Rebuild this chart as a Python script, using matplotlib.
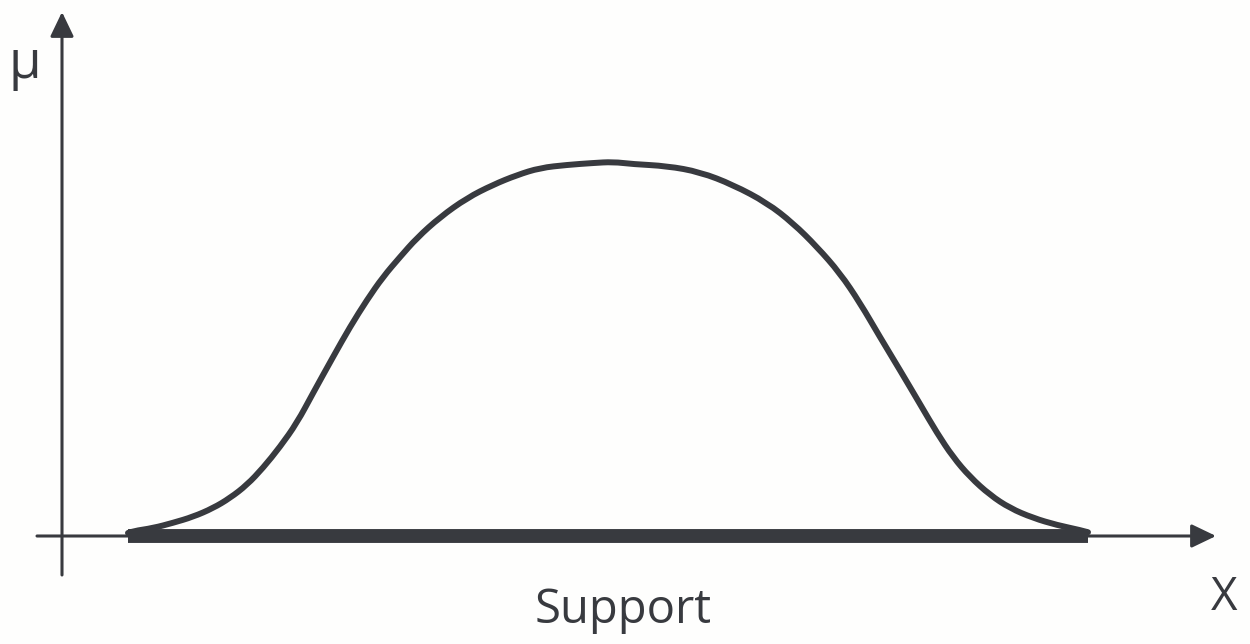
import matplotlib
matplotlib.use("Agg")
import matplotlib.pyplot as plt
from matplotlib.path import Path
from matplotlib.patches import PathPatch

# membership curve (x in drawing units, mu membership degree)
curve_x = [128, 133, 153, 173, 193, 213, 230, 247, 263, 280, 297, 313, 333, 350,
           367, 383, 400, 417, 440, 467, 493, 517, 540, 567, 593, 613, 633, 667,
           700, 733, 767, 793, 817, 840, 860, 880, 900, 920, 937, 953, 970, 990,
           1010, 1033, 1057, 1080, 1088]
curve_mu = [0.008, 0.013, 0.021, 0.035, 0.051, 0.074, 0.101, 0.136, 0.181, 0.237,
            0.301, 0.380, 0.476, 0.556, 0.628, 0.689, 0.742, 0.793, 0.848, 0.899,
            0.934, 0.960, 0.979, 0.987, 0.992, 0.995, 0.989, 0.984, 0.968, 0.934,
            0.886, 0.832, 0.769, 0.699, 0.620, 0.529, 0.441, 0.351, 0.274, 0.210,
            0.157, 0.109, 0.074, 0.048, 0.029, 0.016, 0.010]
support = [128, 1088]
y_label = "μ"
x_label = "X"
support_label = "Support"

COL = "#383a3f"
plt.rcParams['font.family'] = ['Open Sans', 'DejaVu Sans']

fig = plt.figure(figsize=(12.5, 6.44), dpi=100)
fig.patch.set_facecolor("#fefefd")
ax = fig.add_axes([0, 0, 1, 1])
ax.set_facecolor("#fefefd")
ax.set_xlim(0, 1250)
ax.set_ylim((536 - 644) / 376, 536 / 376)
ax.axis("off")

def py(p):
    return (536 - p) / 376

arrow = dict(arrowstyle="-|>,head_length=0.75,head_width=0.36", mutation_scale=20,
             lw=2.2, color=COL, shrinkA=0, shrinkB=0)
# y-axis
ax.annotate("", xy=(62, py(12)), xytext=(62, py(575)), arrowprops=arrow)
# x-axis
ax.annotate("", xy=(1216, 0), xytext=(37, 0), arrowprops=arrow)

# support bar
ax.plot(support, [0, 0], color=COL, lw=10, solid_capstyle="butt", zorder=3)

# curve: read points used as quadratic Bezier control points (smooth drawing)
pts = list(zip(curve_x, curve_mu))
verts = [pts[0]]
codes = [Path.MOVETO]
for i in range(1, len(pts) - 1):
    nxt = pts[i + 1] if i + 1 == len(pts) - 1 else (
        ((pts[i][0] + pts[i + 1][0]) / 2, (pts[i][1] + pts[i + 1][1]) / 2))
    verts += [pts[i], nxt]
    codes += [Path.CURVE3, Path.CURVE3]
patch = PathPatch(Path(verts, codes), facecolor="none", edgecolor=COL, lw=4.3,
                  capstyle="round", joinstyle="round", zorder=4)
ax.add_patch(patch)

ax.text(25, py(64), y_label, fontsize=38, color=COL, ha="center", va="center")
ax.text(1224, py(598), x_label, fontsize=33, color=COL, ha="center", va="center")
ax.text(623, py(610), support_label, fontsize=34, color=COL, ha="center", va="center")

fig.savefig("out.png", dpi=100, facecolor=fig.get_facecolor())
